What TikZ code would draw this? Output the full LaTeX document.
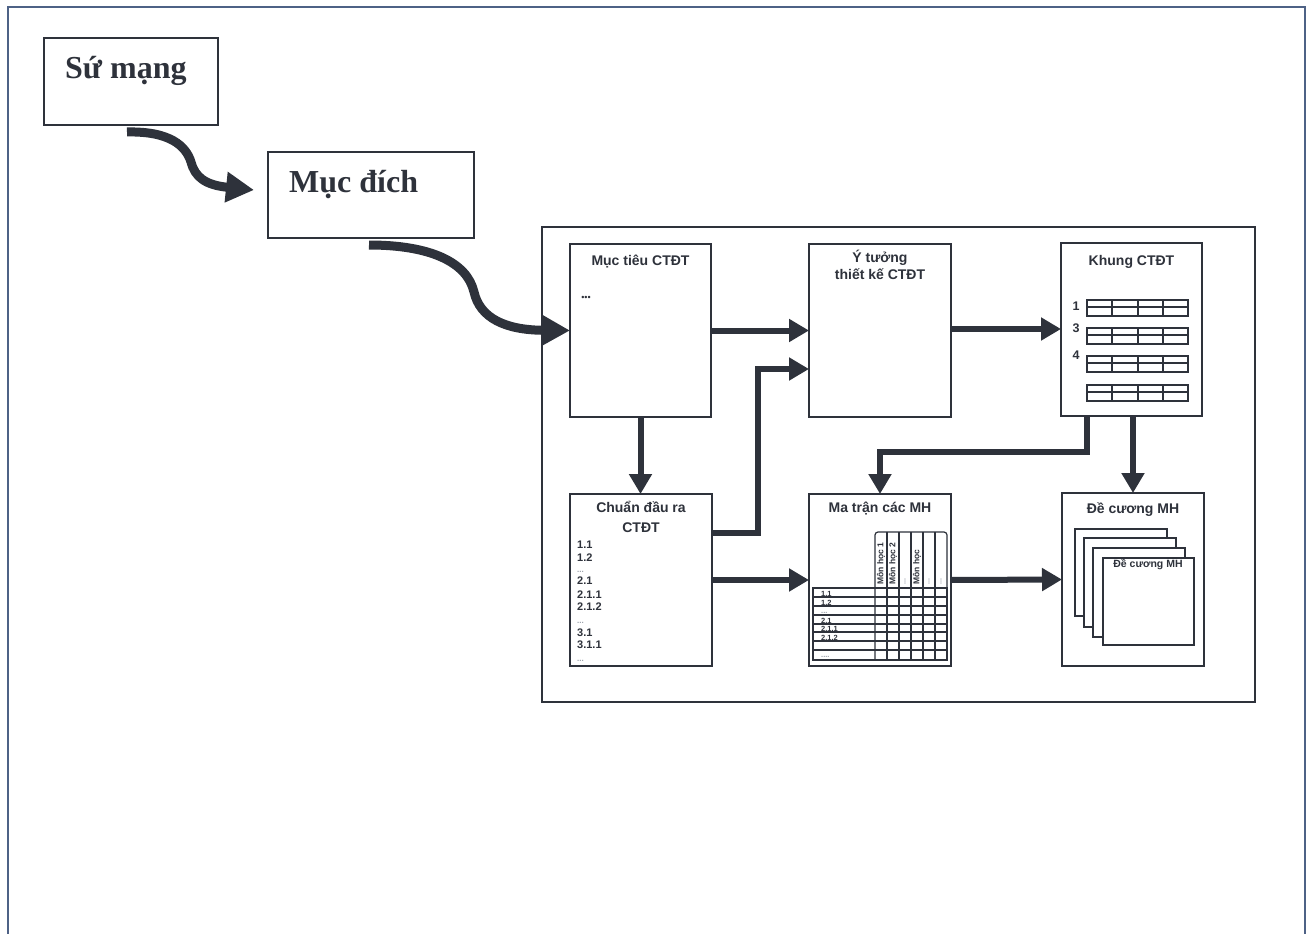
\documentclass[tikz,border=0pt]{standalone}
\usepackage{fontspec}
\setmainfont{Liberation Serif}
\newfontfamily\arialf{Liberation Sans}
\usetikzlibrary{arrows.meta,calc}
\definecolor{ink}{HTML}{2E323B}
\definecolor{framecol}{HTML}{4E6286}
\definecolor{faint}{HTML}{9AA0AA}
\tikzset{
  obox/.style={draw=ink, line width=1.6pt, inner sep=0pt, outer sep=0pt},
  ibox/.style={draw=ink, line width=2.2pt, fill=white, inner sep=0pt, outer sep=0pt},
  bigbox/.style={draw=ink, line width=1.6pt, inner sep=0pt, outer sep=0pt},
  arr/.style={draw=ink, line width=6pt, -{Triangle[length=20pt,width=22pt]}},
  curv/.style={draw=ink, line width=9pt, -{Triangle[length=28pt,width=29pt]}},
  bigtxt/.style={text=ink, inner sep=0pt, font=\fontsize{32pt}{36pt}\selectfont\bfseries},
  ttl/.style={text=ink, inner sep=0pt, font=\arialf\fontsize{14pt}{15pt}\selectfont\bfseries},
  lst/.style={text=ink, inner sep=0pt, anchor=base west, font=\arialf\fontsize{11pt}{13pt}\selectfont\bfseries},
  lstf/.style={text=faint, inner sep=0pt, anchor=base west, font=\arialf\fontsize{8pt}{9pt}\selectfont\bfseries},
  rowl/.style={text=ink, inner sep=0pt, anchor=base west, font=\arialf\fontsize{7.5pt}{8pt}\selectfont\bfseries},
  coll/.style={text=ink, inner sep=0pt, anchor=west, rotate=90, font=\arialf\fontsize{8.5pt}{9pt}\selectfont\bfseries},
  collf/.style={text=faint, inner sep=0pt, anchor=west, rotate=90, font=\arialf\fontsize{7pt}{8pt}\selectfont\bfseries},
  num/.style={text=ink, inner sep=0pt, font=\arialf\fontsize{12.5pt}{13pt}\selectfont\bfseries},
  grid/.style={draw=ink, line width=1.2pt},
  page/.style={draw=ink, line width=1.2pt, fill=white},
}
\begin{document}
\begin{tikzpicture}[x=1pt,y=-1pt]
\useasboundingbox (0,0) rectangle (1310,934);
\fill[white] (0,0) rectangle (1310,934);
% outer frame (bottom edge falls outside the picture)
\draw[draw=framecol, line width=2pt] (8,945) -- (8,7) -- (1305,7) -- (1305,945);

% top-left boxes
\node[obox, minimum width=174pt, minimum height=87pt] (sm) at (131,81.5) {};
\node[bigtxt, anchor=base west] (smt) at (65,78) {Sứ mạng};
\node[obox, minimum width=206pt, minimum height=86pt] (md) at (371,195) {};
\node[bigtxt, anchor=base west] (mdt) at (289,192) {Mục đích};

% big container
\node[bigbox, minimum width=713pt, minimum height=475pt] (big) at (898.5,464.5) {};

% inner boxes
\node[ibox, minimum width=141pt, minimum height=173pt] (mt) at (640.5,330.5) {};
\node[ibox, minimum width=142pt, minimum height=173pt] (yt) at (880,330.5) {};
\node[ibox, minimum width=141pt, minimum height=173pt] (kh) at (1131.5,329.5) {};
\node[ibox, minimum width=142pt, minimum height=172pt] (cd) at (641,580) {};
\node[ibox, minimum width=142pt, minimum height=172pt] (mtr) at (880,580) {};
\node[ibox, minimum width=142pt, minimum height=173pt] (dc) at (1133,579.5) {};

% titles
\node[ttl, anchor=base] (mtt) at (640.5,265) {Mục tiêu CTĐT};
\node[text=ink, inner sep=0pt, font=\arialf\fontsize{9pt}{9pt}\selectfont] (mtd) at (586,298) {•••};
\node[ttl, anchor=base] (yt1) at (880,262) {Ý tưởng};
\node[ttl, anchor=base] (yt2) at (880,279) {thiết kế CTĐT};
\node[ttl, anchor=base] (kht) at (1131.5,265) {Khung CTĐT};
\node[ttl, anchor=base] (cdt1) at (641,512) {Chuẩn đầu ra};
\node[ttl, anchor=base] (cdt2) at (641,532) {CTĐT};
\node[ttl, anchor=base] (mtrt) at (880,512) {Ma trận các MH};
\node[ttl, anchor=base] (dct) at (1133,513) {Đề cương MH};

% list in Chuan dau ra
\node[lst] (l1) at (577,548) {1.1};
\node[lst] (l2) at (577,561) {1.2};
\node[lstf] (l3) at (577,572) {...};
\node[lst] (l4) at (577,584) {2.1};
\node[lst] (l5) at (577,598) {2.1.1};
\node[lst] (l6) at (577,610) {2.1.2};
\node[lstf] (l7) at (577,623) {...};
\node[lst] (l8) at (577,636) {3.1};
\node[lst] (l9) at (577,648) {3.1.1};
\node[lstf] (l10) at (577,661) {...};

% Khung tables
\node[num] (n1) at (1076,306) {1};
\node[num] (n3) at (1076,328) {3};
\node[num] (n4) at (1076,355) {4};
\foreach \ty in {300,328,356,385}{
  \draw[grid] (1087,\ty) rectangle (1188,\ty+16);
  \draw[grid] (1087,\ty+7) -- (1188,\ty+7);
  \foreach \tx in {1112,1138,1163} \draw[grid] (\tx,\ty) -- (\tx,\ty+16);
}

% matrix
\draw[grid, rounded corners=3pt] (875,660) -- (875,532) -- (947,532) -- (947,660);
\foreach \cx in {887,899,911,923,935} \draw[grid] (\cx,532) -- (\cx,660);
\draw[grid] (813,588) rectangle (947,660);
\foreach \ry in {597,606,615,624,632,641,650} \draw[grid] (813,\ry) -- (947,\ry);
\node[rowl] (r1) at (821,596) {1.1};
\node[rowl] (r2) at (821,605) {1.2};
\node[rowl, text=faint] (r3) at (821,613) {...};
\node[rowl] (r4) at (821,623) {2.1};
\node[rowl] (r5) at (821,631) {2.1.1};
\node[rowl] (r6) at (821,640) {2.1.2};
\node[rowl, text=faint] (r7) at (821,657) {....};
\node[coll] (c1) at (881,585) {Môn học 1};
\node[coll] (c2) at (893,585) {Môn học 2};
\node[collf] (c3) at (905,585) {...};
\node[coll] (c4) at (917,585) {Môn học};
\node[collf] (c5) at (929,585) {...};
\node[collf] (c6) at (941,585) {...};

% stacked pages
\draw[page] (1075,529) rectangle (1167,616);
\draw[page] (1084,538) rectangle (1176,627);
\draw[page] (1093,548) rectangle (1185,637);
\draw[page] (1103,558) rectangle (1194,645);
\node[text=ink, inner sep=0pt, font=\arialf\fontsize{10.5pt}{11pt}\selectfont\bfseries] (pgt) at (1148,565) {Đề cương MH};

% curved connectors
\draw[curv] ([xshift=83pt,yshift=-7pt]sm.south west) .. controls (170,131) and (186,146) .. (191,162)
   .. controls (195,177) and (205,185) .. ([xshift=-14pt,yshift=5pt]md.west);
\draw[curv] ([xshift=101pt,yshift=-7pt]md.south west) .. controls (430,245) and (467,262) .. (474,292)
   .. controls (480,318) and (505,330) .. (mt.west);

% inner connectors
\draw[arr] (mt.east) -- (yt.west);
\draw[arr] (cd.east |- 0,533) -- (758,533) -- (758,369) -- (yt.west |- 0,369);
\draw[arr] (mt.south) -- (mt.south |- cd.north);
\draw[arr] (yt.east |- 0,329) -- (kh.west |- 0,329);
\draw[arr] (kh.south -| 1087,0) -- (1087,452) -- (880,452) -- (mtr.north);
\draw[arr] (kh.south -| 1133,0) -- (dc.north);
\draw[arr] (cd.east) -- (mtr.west);
\draw[arr] (mtr.east) -- (dc.west);
\end{tikzpicture}
\end{document}
